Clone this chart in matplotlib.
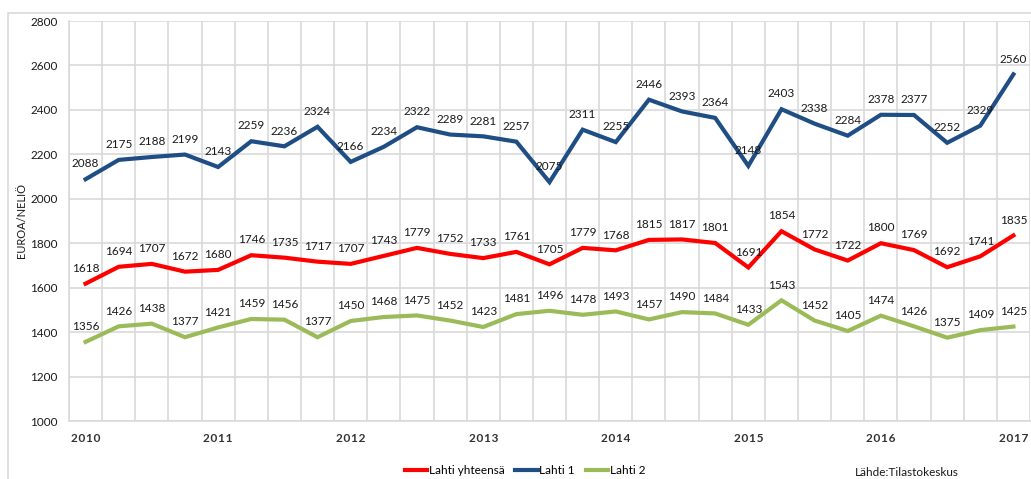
import matplotlib
matplotlib.use('Agg')
import matplotlib.pyplot as plt
from matplotlib.patches import Rectangle
from matplotlib.ticker import MultipleLocator, FixedLocator
import numpy as np

plt.rcParams['font.family'] = ['Lato', 'DejaVu Sans']

years = ['2010', '2011', '2012', '2013', '2014', '2015', '2016', '2017']
lahti_total = [1618, 1694, 1707, 1672, 1680, 1746, 1735, 1717, 1707, 1743, 1779, 1752,
               1733, 1761, 1705, 1779, 1768, 1815, 1817, 1801, 1691, 1854, 1772, 1722,
               1800, 1769, 1692, 1741, 1835]
lahti_1 = [2088, 2175, 2188, 2199, 2143, 2259, 2236, 2324, 2166, 2234, 2322, 2289,
           2281, 2257, 2075, 2311, 2255, 2446, 2393, 2364, 2148, 2403, 2338, 2284,
           2378, 2377, 2252, 2329, 2560]
lahti_2 = [1356, 1426, 1438, 1377, 1421, 1459, 1456, 1377, 1450, 1468, 1475, 1452,
           1423, 1481, 1496, 1478, 1493, 1457, 1490, 1484, 1433, 1543, 1452, 1405,
           1474, 1426, 1375, 1409, 1425]

series = [('Lahti yhteensä', lahti_total, '#FF0000'),
          ('Lahti 1', lahti_1, '#1F4E85'),
          ('Lahti 2', lahti_2, '#9BBB59')]

W, H = 1031, 479
fig = plt.figure(figsize=(W / 100, H / 100), dpi=100)
ax = fig.add_axes([69 / W, 1 - 421 / H, (1030 - 69) / W, 400 / H])

# outer chart border
fig.patches.append(Rectangle((8 / W, -0.1), 1.2, 1 - 13 / H + 0.1, transform=fig.transFigure,
                             fill=False, edgecolor='#D9D9D9', linewidth=1.2))

x = np.arange(len(lahti_1))
for name, vals, col in series:
    ax.plot(x, vals, color=col, linewidth=3, label=name, solid_joinstyle='miter')
    for xi, v in zip(x, vals):
        ax.annotate(str(v), (xi, v), xytext=(0, 11), textcoords='offset points',
                    ha='center', va='center', fontsize=8.5, color='#1A1A1A')

ax.set_xlim(-0.5, len(x) - 0.5)
ax.set_ylim(1000, 2800)
ax.yaxis.set_major_locator(MultipleLocator(200))
ax.xaxis.set_major_locator(FixedLocator(np.arange(0, len(x), 4)))
# spaced-out year labels as in the original
ax.set_xticklabels(['\u200a'.join(y) for y in years], fontsize=8.5, fontweight='bold',
                   color='#333333')
ax.xaxis.set_minor_locator(FixedLocator(np.arange(-0.5, len(x), 1)))
ax.tick_params(axis='both', which='both', length=0)
ax.tick_params(axis='x', pad=9)
ax.tick_params(axis='y', pad=8, labelsize=8.5, labelcolor='#1A1A1A')
ax.grid(axis='y', which='major', color='#D9D9D9', linewidth=1.2)
ax.grid(axis='x', which='minor', color='#D9D9D9', linewidth=1.2)
ax.set_axisbelow(True)
for s in ['top', 'right']:
    ax.spines[s].set_visible(False)
for s in ['left', 'bottom']:
    ax.spines[s].set_color('#D9D9D9')
    ax.spines[s].set_linewidth(1.2)

fig.text(22 / W, 1 - 220 / H, 'EUROA/NELIÖ', rotation=90, ha='center', va='center',
         fontsize=8, color='#1A1A1A')

fig.legend(loc='center', bbox_to_anchor=(525 / W, 1 - 471 / H), ncol=3, frameon=False,
           fontsize=8.5, handlelength=1.9, handletextpad=0.15, columnspacing=0.9,
           borderpad=0)
fig.text(855 / W, 1 - 473 / H, 'Lähde:Tilastokeskus', ha='left', va='center',
         fontsize=8.5, color='#1A1A1A')

fig.savefig('out.png', dpi=100)
